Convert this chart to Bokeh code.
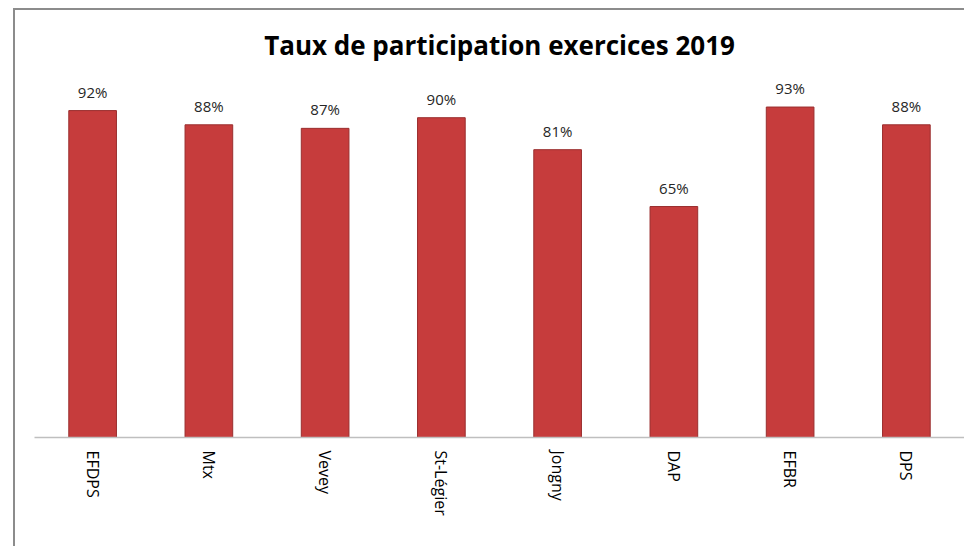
from bokeh.plotting import figure
from bokeh.models import ColumnDataSource, LabelSet
from bokeh.core.properties import value
from bokeh.embed import file_html
from bokeh.resources import INLINE

categories = ["EFDPS", "Mtx", "Vevey", "St-Légier", "Jongny", "DAP", "EFBR", "DPS"]
values = [0.92, 0.88, 0.87, 0.90, 0.81, 0.65, 0.93, 0.88]
labels = ["92%", "88%", "87%", "90%", "81%", "65%", "93%", "88%"]

src = ColumnDataSource(dict(cat=categories, val=values, lab=labels))

p = figure(x_range=categories, y_range=(0, 1.03), width=951, height=538,
           output_backend="svg", toolbar_location=None, y_axis_location=None,
           min_border_left=19, min_border_right=2, min_border_top=61, min_border_bottom=111)
p.styles = {"margin-left": "13px", "margin-top": "8px",
            "border-top": "2px solid #8c8c8c", "border-left": "2px solid #8c8c8c"}

p.title.text = "Taux de participation exercices 2019"
p.title.align = "center"
p.title.text_font = "Open Sans"
p.title.text_font_style = "bold"
p.title.text_font_size = "26px"
p.title.text_color = "#000000"
try:
    p.title.standoff = 18
except Exception:
    pass

p.vbar(x="cat", top="val", width=0.41, source=src, fill_color="#c63c3c",
       line_color="#9a2e2e", line_width=1)

p.add_layout(LabelSet(x="cat", y="val", text="lab", source=src, text_align="center",
                      text_baseline="bottom", y_offset=9, text_font=value("Open Sans"),
                      text_font_size=value("15px"), text_color="#262626"))

p.xgrid.visible = False
p.ygrid.visible = False
p.outline_line_color = None
p.xaxis.axis_line_color = "#bfbfbf"
p.xaxis.axis_line_width = 1.5
p.xaxis.major_tick_line_color = None
p.xaxis.minor_tick_line_color = None
p.xaxis.major_label_orientation = -1.5707963
p.xaxis.major_label_text_font = "Open Sans"
p.xaxis.major_label_text_font_size = "16px"
p.xaxis.major_label_text_color = "#000000"
p.xaxis.major_label_standoff = 7

open("out.html", "w").write(file_html(p, INLINE))
